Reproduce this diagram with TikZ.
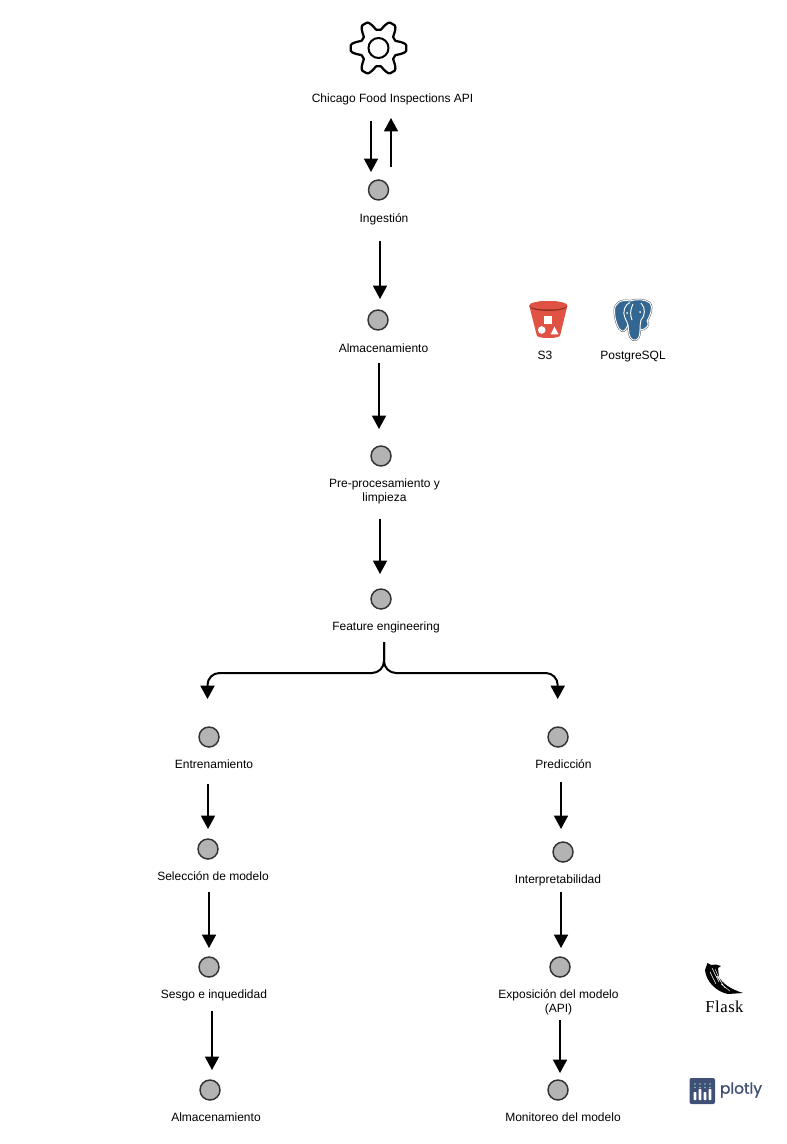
\documentclass[tikz,border=0pt]{standalone}
\usepackage{fontspec}
\setmainfont{Liberation Sans}
\newfontfamily\flaskfont[LetterSpace=3]{Liberation Serif}
\newfontfamily\plotlyfont[FakeBold=1.2]{Poppins}
\usetikzlibrary{arrows.meta}
\definecolor{etapagris}{HTML}{B3B3B3}
\definecolor{bordegris}{HTML}{333333}
\definecolor{rojoaws}{HTML}{E05243}
\definecolor{rojoawsosc}{HTML}{8C3123}
\definecolor{azulpg}{HTML}{336791}
\definecolor{azulplotly}{HTML}{3F4F75}
\definecolor{verdeplotly}{HTML}{80CFBE}
\newcommand{\siluetapg}{(630,301) .. controls (621,299) and (614,303) .. (614.5,312) .. controls (615,320) and (618,330) .. (622,331) .. controls (625,332) and (626,328) .. (628,325) .. controls (629,331) and (628,337) .. (633,340) .. controls (638,341) and (640,337) .. (640,330) .. controls (645,330) and (651,325) .. (647,321) .. controls (651,314) and (653,307) .. (650,303) .. controls (645,299) and (636,299) .. (630,301) -- cycle}
\begin{document}
\begin{tikzpicture}[
        x=0.75pt, y=-0.75pt,
        etapa/.style={circle, draw=bordegris, fill=etapagris, line width=1.1pt, minimum size=15pt, inner sep=0pt},
        rotulo/.style={font=\fontsize{9}{10.5}\selectfont, align=center, inner sep=0pt, text=black},
        flecha/.style={-{Triangle[length=10pt, width=10.5pt]}, line width=1.1pt, black},
        rama/.style={-{Triangle[length=10pt, width=10.5pt]}, line width=1.5pt, black, rounded corners=9pt}
    ]
        \useasboundingbox (0,0) rectangle (786,1144);

        % Gear
        \node[minimum size=58pt, inner sep=0pt] (gear) at (378.5,48) {};
        \draw[line width=1.7pt, line join=round] plot[smooth cycle, samples=120, domain=0:357] ({378.5+(23+4.8*max(-1,min(1,1.35*cos(6*\x))))*cos(\x)}, {48+(23+4.8*max(-1,min(1,1.35*cos(6*\x))))*sin(\x)});
        \draw[line width=1.5pt] (gear.center) circle (10);

        % Steps
        \foreach \name/\x/\y in {ing/378.5/190, alm/378/320, pre/381/456, fea/381/599, ent/209/737, pred/558/737, sel/208/849, inter/563/852, ses/209/967, expo/560/967, almb/210/1090, mon/558/1090} {
            \node[etapa] (\name) at (\x,\y) {};
        }

        % Labels
        \foreach \name/\x/\y/\txt in {lapi/392.5/99/Chicago Food Inspections API, ling/384/219/Ingestión, lalm/383.5/348/Almacenamiento, lpre/384.5/491/{Pre-procesamiento y\\limpieza}, lfea/386/627/Feature engineering, lent/214/764/Entrenamiento, lpred/563.5/764/Predicción, lsel/213/876/Selección de modelo, linter/558/880/Interpretabilidad, lses/214/995/Sesgo e inquedidad, lexpo/558.5/1002/{Exposición del modelo\\(API)}, lalmb/216/1117/Almacenamiento, lmon/563/1117/Monitoreo del modelo, ls3/545/355/S3, lpg/633/357/PostgreSQL} {
            \node[rotulo] (\name) at (\x,\y) {\txt};
        }

        % Arrow ends
        \foreach \name/\x/\y in {a1/371/121, b1/371/172, a2/391/167, b2/391/118, a3/380/241, b3/380/299, a4/379/363, b4/379/429, a5/380/519, b5/380/574, a6/384/642, codo/384/673, b6/207.5/699, b7/557.7/699, a8/208/784, b8/208/829, a9/209/892, b9/209/948, a10/212/1011, b10/212/1070, a11/561/782, b11/561/829, a12/561/892, b12/561/948, a13/560/1020, b13/560/1073} {
            \coordinate (\name) at (\x,\y);
        }
        \foreach \a/\b in {a1/b1, a2/b2, a3/b3, a4/b4, a5/b5, a8/b8, a9/b9, a10/b10, a11/b11, a12/b12, a13/b13} {
            \draw[flecha] (\a) -- (\b);
        }

        % Fork
        \draw[rama] (a6) -- (codo) -- (b6 |- codo) -- (b6);
        \draw[rama] (a6) -- (codo) -- (b7 |- codo) -- (b7);

        % S3
        \fill[rojoaws] (529.3,306) -- (536.7,335) .. controls (537,337) and (541,338) .. (548.3,338) .. controls (556,338) and (560,337) .. (560.2,335) -- (567.3,306) -- cycle;
        \fill[rojoawsosc] (548.3,306) ellipse (19 and 5);
        \fill[rojoaws] (548.3,305.3) ellipse (19 and 4.2);
        \fill[white] (544.3,315.7) rectangle (552.3,324.3);
        \fill[white] (541.7,330) circle (3.8);
        \fill[white] (554.5,326.7) -- (558.5,334.3) -- (550.7,334.3) -- cycle;

        % PostgreSQL
        \draw[gray!80!black, line width=1.5pt, line join=round] \siluetapg;
        \draw[white, fill=azulpg, line width=0.7pt, line join=round] \siluetapg;
        \draw[white, line width=0.7pt] (630,302.5) .. controls (625,304) and (622,312) .. (625,318) .. controls (627,321) and (627,323) .. (628,325);
        \draw[white, line width=0.7pt] (641,303) .. controls (646,308) and (645,316) .. (641,320) .. controls (640,325) and (640,327) .. (640,330);
        \draw[white, line width=0.7pt] (633,304) .. controls (630,310) and (630,315) .. (632,320);
        \fill[white] (627,313) circle (1) (640,312) circle (1);

        % Flask
        \fill[black] (707.5,963) -- (711,965) -- (716,964.5) -- (721,966) -- (718,968) -- (719,977) .. controls (722,983) and (730,989) .. (743,993) -- (728,994) .. controls (717,992) and (706,982) .. (705,970) -- cycle;
        \draw[white, line width=0.35pt] (712,968) -- (719,982) (715,969) -- (721,982) (710,972) -- (716,984) (717,976) -- (725,988) (721,984) -- (730,991);
        \node[inner sep=0pt, font=\flaskfont\fontsize{12.5}{14}\selectfont] (lflask) at (724.5,1007) {Flask};

        % Plotly
        \fill[azulplotly, rounded corners=1.5pt] (689.5,1078) rectangle (715,1104);
        \foreach \i/\h in {0/1092, 1/1089, 2/1092, 3/1089} {
            \fill[verdeplotly] (695+\i*5,1084) circle (0.9) (695+\i*5,1087.5) circle (0.9);
            \fill[white, rounded corners=0.5pt] (693.6+\i*5,\h) rectangle (696.4+\i*5,1100);
        }
        \node[inner sep=0pt, text=azulplotly, font=\plotlyfont\fontsize{11.5}{13}\selectfont] (lplotly) at (741,1090) {plotly};
    \end{tikzpicture}
\end{document}
